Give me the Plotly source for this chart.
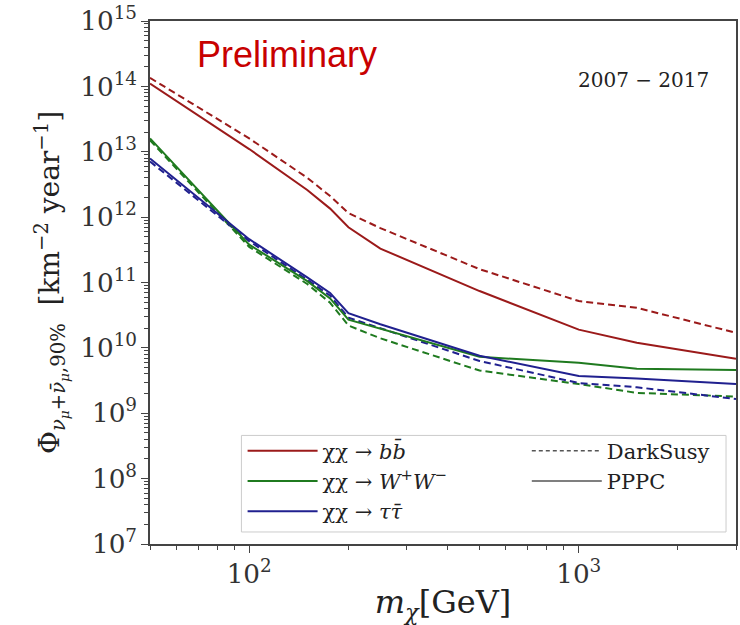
import plotly.graph_objects as go

mass = [50, 100, 150, 176, 200, 250, 500, 1000, 1500, 3000]
bb_pppc = [1.1e14, 1.1e13, 2.6e12, 1.35e12, 7.0e11, 3.3e11, 7.4e10, 1.9e10, 1.2e10, 6.8e9]
bb_ds = [1.35e14, 1.6e13, 4.0e12, 2.1e12, 1.15e12, 6.8e11, 1.6e11, 5.2e10, 4.1e10, 1.7e10]
ww_pppc = [1.6e13, 3.8e11, 1.05e11, 5.7e10, 2.7e10, 1.96e10, 7.3e9, 5.9e9, 4.8e9, 4.6e9]
ww_ds = [1.5e13, 3.5e11, 9.5e10, 4.9e10, 2.2e10, 1.4e10, 4.5e9, 2.8e9, 2.05e9, 1.8e9]
tt_pppc = [7.9e12, 4.6e11, 1.2e11, 6.9e10, 3.4e10, 2.3e10, 7.6e9, 3.7e9, 3.4e9, 2.8e9]
tt_ds = [7.1e12, 4.3e11, 1.1e11, 6.3e10, 2.9e10, 2.0e10, 6.3e9, 2.9e9, 2.5e9, 1.65e9]

channel_labels = ["χχ → <i>b</i><i>b̄</i>", "χχ → <i>W</i><sup>+</sup><i>W</i><sup>−</sup>", "χχ → <i>τ</i><i>τ̄</i>"]
model_labels = ["DarkSusy", "PPPC"]

RED = "#9b1a1a"
GREEN = "#1f7a1f"
BLUE = "#20208f"
GRAY = "#555555"
DASH = "7px,4px"
SERIF = "DejaVu Serif, Liberation Serif, serif"

fig = go.Figure()

# dashed (DarkSusy) curves
for y, c in [(bb_ds, RED), (ww_ds, GREEN), (tt_ds, BLUE)]:
    fig.add_trace(go.Scatter(x=mass, y=y, mode="lines", showlegend=False,
                             line=dict(color=c, width=2, dash=DASH)))
# solid (PPPC) curves, with channel legend entries
for i, (y, c, lab) in enumerate(zip([bb_pppc, ww_pppc, tt_pppc], [RED, GREEN, BLUE], channel_labels)):
    fig.add_trace(go.Scatter(x=mass, y=y, mode="lines", name=lab, legend="legend",
                             legendgroup=f"ch{i}", line=dict(color=c, width=2)))
# model style legend entries
fig.add_trace(go.Scatter(x=[None], y=[None], mode="lines", name=model_labels[0], legend="legend2",
                         legendgroup="m0", line=dict(color=GRAY, width=1.5, dash="4px,3px")))
fig.add_trace(go.Scatter(x=[None], y=[None], mode="lines", name=model_labels[1], legend="legend2",
                         legendgroup="m1", line=dict(color=GRAY, width=1.5)))

axis_common = dict(
    type="log", showgrid=False, zeroline=False, showline=True, mirror=True,
    linecolor="#444444", linewidth=1.5, ticks="outside", ticklen=7, tickwidth=1.3,
    tickcolor="#444444", exponentformat="power", dtick=1,
    tickfont=dict(family=SERIF, size=21, color="#333333"),
    minor=dict(ticks="outside", ticklen=4, tickwidth=1, tickcolor="#444444", showgrid=False),
)

legend_common = dict(
    orientation="v", yanchor="top", xanchor="left", traceorder="normal",
    font=dict(family=SERIF, size=21, color="#222222"),
    bgcolor="rgba(0,0,0,0)", borderwidth=0, itemwidth=70, tracegroupgap=6,
)

fig.update_layout(
    width=740, height=625,
    margin=dict(l=150, r=2, t=19, b=81),
    paper_bgcolor="white", plot_bgcolor="white",
    xaxis=dict(axis_common, range=[1.69897, 3.47712],
               title=dict(text="<i>m</i><sub><i>χ</i></sub>[GeV]",
                          font=dict(family=SERIF, size=32, color="#222222"), standoff=8)),
    yaxis=dict(axis_common, range=[7, 15],
               title=dict(text="Φ<sub><i>ν</i><sub><i>μ</i></sub>+<i>ν̄</i><sub><i>μ</i></sub>,90%</sub>  [km<sup>−2</sup> year<sup>−1</sup>]",
                          font=dict(family=SERIF, size=28, color="#222222"), standoff=12)),
    legend=dict(legend_common, x=0.158, y=0.217),
    legend2=dict(legend_common, x=0.643, y=0.217),
    shapes=[dict(type="rect", xref="paper", yref="paper", x0=0.156, x1=0.983, y0=0.023, y1=0.2076,
                 line=dict(color="#cccccc", width=1), fillcolor="white", layer="above")],
    annotations=[
        dict(text="Preliminary", xref="paper", yref="paper", x=0.0765, y=0.935,
             xanchor="left", yanchor="middle", showarrow=False,
             font=dict(family="Liberation Sans, Arial, sans-serif", size=36, color="#c80000")),
        dict(text="2007 − 2017", xref="paper", yref="paper", x=0.957, y=0.888,
             xanchor="right", yanchor="middle", showarrow=False,
             font=dict(family=SERIF, size=20, color="#222222")),
    ],
)

fig.write_html("out.html")
